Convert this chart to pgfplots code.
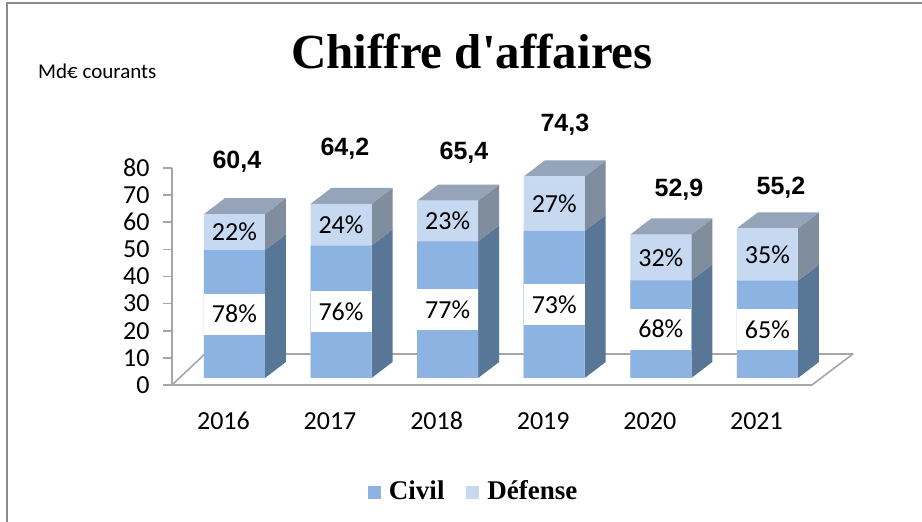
\documentclass[border=0pt]{standalone}
\usepackage{fontspec}
\setmainfont{Carlito}
\newfontfamily\timesfont{Liberation Serif}
\newfontfamily\arialfont{Liberation Sans}
\usepackage{pgfplots}
\pgfplotsset{compat=1.18}
\usepackage{pgfplotstable}

\definecolor{civ}{HTML}{8DB3E2}
\definecolor{def}{HTML}{C6D9F1}
\definecolor{civside}{HTML}{587696}
\definecolor{defside}{HTML}{7F8D9C}
\definecolor{topc}{HTML}{95A4B8}
\definecolor{axgray}{HTML}{A6A6A6}
\definecolor{framegray}{HTML}{8C8C8C}

% year, civil (Md EUR), total (Md EUR)
\pgfplotstableread{
x civ tot
0 47.11 60.4
1 48.79 64.2
2 50.36 65.4
3 54.24 74.3
4 35.97 52.9
5 35.88 55.2
}\data

\newcommand\threedbar[3]{%
  \pgfmathsetmacro\xr{#1+0.2861}%
  \pgfmathsetmacro\xl{#1-0.2861}%
  \pgfmathsetmacro\xrb{#1+0.2861+0.197}%
  \pgfmathsetmacro\xlb{#1-0.2861+0.197}%
  \pgfmathsetmacro\cb{#2+5.9}%
  \pgfmathsetmacro\tb{#3+5.9}%
  \edef\tmp{%
   \noexpand\addplot[fill=civside,draw=none,yshift=7pt,forget plot] coordinates {(\xr,0) (\xrb,5.9) (\xrb,\cb) (\xr,#2)};
   \noexpand\addplot[fill=defside,draw=none,yshift=7pt,forget plot] coordinates {(\xr,#2) (\xrb,\cb) (\xrb,\tb) (\xr,#3)};
   \noexpand\addplot[fill=topc,draw=none,yshift=7pt,forget plot] coordinates {(\xl,#3) (\xr,#3) (\xrb,\tb) (\xlb,\tb)};
  }\tmp}

\newcommand\lab{\fontsize{26}{26}\selectfont}

\begin{document}
\begin{tikzpicture}
\useasboundingbox (0,0) rectangle (922pt,522pt);
\fill[white] (0,0) rectangle (922pt,522pt);
\draw[framegray, line width=2pt] (7pt,0) -- (7pt,519pt) -- (922pt,519pt);
\node[anchor=base, inner sep=0pt, font=\timesfont\bfseries\fontsize{49}{49}\selectfont] at (472pt,453pt) {Chiffre d'affaires};
\node[anchor=base west, inner sep=0pt, font=\fontsize{21}{21}\selectfont] at (38pt,443pt) {Md€ courants};
\begin{axis}[
  at={(172pt,137pt)}, anchor=south west,
  x=106.6pt, y=2.7125pt,
  xmin=-0.5857, xmax=6, ymin=0, ymax=80,
  clip=false,
  axis y line*=left, axis x line*=bottom,
  x axis line style={draw=none},
  y axis line style={draw=axgray, line width=1.6pt},
  ytick={0,10,...,80},
  ytick style={draw=axgray, line width=1.6pt},
  tick align=outside, major tick length=9pt,
  xtick={0,...,5},
  xticklabels={2016,2017,2018,2019,2020,2021},
  xtick style={draw=none},
  /pgf/number format/assume math mode=true,
  yticklabel style={font=\lab, xshift=-10pt},
  xticklabel style={font=\lab, anchor=center, yshift=-27pt, xshift=-11pt},
  legend style={at={(0.4298,-0.488)}, anchor=center, draw=none, fill=none,
    font=\timesfont\bfseries\fontsize{27}{27}\selectfont,
    legend columns=2, /tikz/every even column/.append style={column sep=20pt}},
  legend image code/.code={\fill[#1, draw=none] (0pt,-8pt) rectangle (13pt,5pt); \path[draw=none, fill=none] (0pt,0pt) rectangle (19pt,0pt);},
]
% floor
\addplot[draw=axgray, line width=1.6pt, fill=white, line join=round, forget plot]
  coordinates {(-0.5857,0) (-0.277,11.43) (5.802,11.43) (5.417,0) (-0.5857,0)};
% depth faces
\threedbar{0}{47.11}{60.4}
\threedbar{1}{48.79}{64.2}
\threedbar{2}{50.36}{65.4}
\threedbar{3}{54.24}{74.3}
\threedbar{4}{35.97}{52.9}
\threedbar{5}{35.88}{55.2}
% front faces
\addplot[ybar, bar width=61pt, bar shift=0pt, fill=def, draw=none, yshift=7pt, forget plot]
  table[x=x, y=tot]{\data};
\addplot[ybar, bar width=61pt, bar shift=0pt, fill=civ, draw=none, yshift=7pt, forget plot]
  table[x=x, y=civ]{\data};
% percentage labels
\begin{scope}[yshift=7pt]
\foreach \k/\c/\t/\pc/\pd in {0/47.11/60.4/78/22, 1/48.79/64.2/76/24, 2/50.36/65.4/77/23, 3/54.24/74.3/73/27, 4/35.97/52.9/68/32, 5/35.88/55.2/65/35}{
  \edef\tmp{\noexpand\node[fill=white, minimum width=61pt, minimum height=41pt, inner sep=0pt, font=\noexpand\lab] at (axis cs:\k,\c/2) {\pc\noexpand\%};
  \noexpand\node[inner sep=0pt, font=\noexpand\lab] at (axis cs:\k,{(\c+\t)/2}) {\pd\noexpand\%};}\tmp
}
\end{scope}
% totals
\node[font=\arialfont\bfseries\fontsize{25}{25}\selectfont] at (axis cs:0.023,82.2) {60,4};
\node[font=\arialfont\bfseries\fontsize{25}{25}\selectfont] at (axis cs:1.036,87.1) {64,2};
\node[font=\arialfont\bfseries\fontsize{25}{25}\selectfont] at (axis cs:2.153,85.6) {65,4};
\node[font=\arialfont\bfseries\fontsize{25}{25}\selectfont] at (axis cs:3.100,95.9) {74,3};
\node[font=\arialfont\bfseries\fontsize{25}{25}\selectfont] at (axis cs:4.170,71.9) {52,9};
\node[font=\arialfont\bfseries\fontsize{25}{25}\selectfont] at (axis cs:5.127,72.7) {55,2};
\addlegendimage{fill=civ}
\addlegendentry{Civil}
\addlegendimage{fill=def}
\addlegendentry{Défense}
\end{axis}
\end{tikzpicture}
\end{document}
